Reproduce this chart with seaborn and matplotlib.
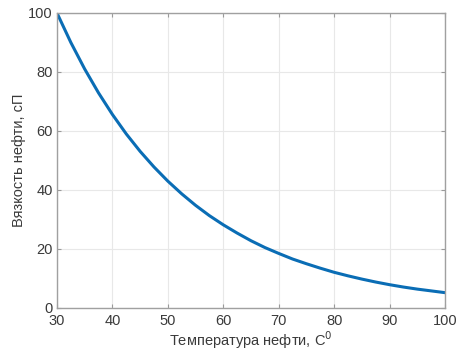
import matplotlib
matplotlib.use("Agg")
import matplotlib.pyplot as plt
import seaborn as sns
import pandas as pd

temperature = [30, 32.5, 35, 37.5, 40, 42.5, 45, 47.5, 50, 52.5, 55, 57.5, 60, 62.5, 65,
               67.5, 70, 72.5, 75, 77.5, 80, 82.5, 85, 87.5, 90, 92.5, 95, 97.5, 100]
viscosity = [100, 90.0, 81.0, 72.9, 65.6, 59.0, 53.1, 47.8, 43.0, 38.7, 34.8, 31.3, 28.2, 25.4, 22.8,
             20.5, 18.5, 16.6, 15.0, 13.5, 12.1, 10.9, 9.8, 8.8, 7.9, 7.1, 6.4, 5.8, 5.2]
x_ticks = [30, 40, 50, 60, 70, 80, 90, 100]
y_ticks = [0, 20, 40, 60, 80, 100]

sns.set_theme(style="whitegrid")
plt.rcParams['font.family'] = ['Liberation Sans', 'DejaVu Sans']

df = pd.DataFrame({"t": temperature, "v": viscosity})

fig = plt.figure(figsize=(4.57, 3.53), dpi=100)
ax = fig.add_axes([0.1247, 0.1275, 0.849, 0.8357])
sns.lineplot(data=df, x="t", y="v", ax=ax, color="#0a6db5", linewidth=2.2)

ax.set_xlim(30, 100)
ax.set_ylim(0, 100)
ax.set_xticks(x_ticks)
ax.set_yticks(y_ticks)
ax.grid(True, color="#e8e8e8", linewidth=0.8)
ax.set_facecolor("white")
for s in ax.spines.values():
    s.set_visible(True)
    s.set_color("#a0a0a0")
    s.set_linewidth(1.0)
ax.tick_params(axis="both", which="both", direction="in", length=3, width=0.8,
               color="#9a9a9a", labelsize=10.5, labelcolor="#3a3a3a",
               top=True, right=True, bottom=True, left=True)
ax.tick_params(axis="x", pad=4.5)
ax.tick_params(axis="y", pad=3)
ax.set_xlabel("Температура нефти, C$^0$", fontsize=10.5, color="#3a3a3a", labelpad=0.5)
ax.set_ylabel("Вязкость нефти, сП", fontsize=10.5, color="#3a3a3a", labelpad=1.5)

fig.savefig("out.png", dpi=100)
